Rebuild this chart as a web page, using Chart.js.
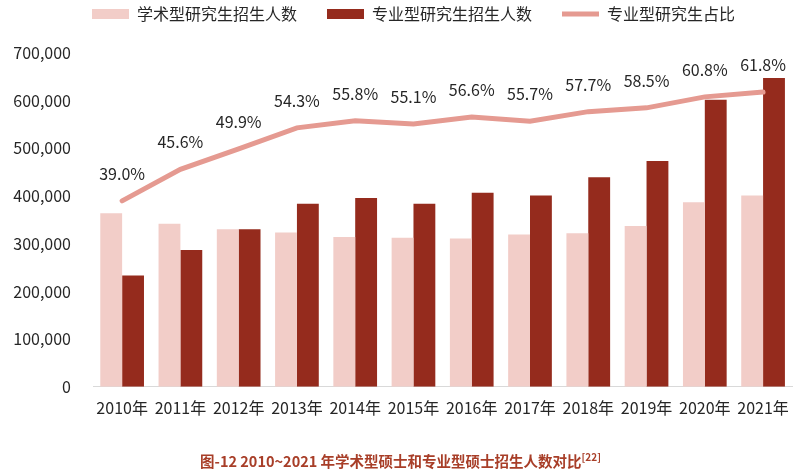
<!DOCTYPE html>
<html>
<head>
<meta charset="utf-8">
<script src="https://cdn.jsdelivr.net/npm/chart.js@4.4.1/dist/chart.umd.min.js"></script>
<style>
  html, body { margin: 0; padding: 0; background: #fff; }
  #wrap { position: relative; width: 801px; height: 475px; }
  #caption {
    position: absolute; left: 0; top: 449px; width: 801px; text-align: center;
    font: bold 14.5px "Noto Sans CJK SC", sans-serif; color: #a83e28;
  }
  #caption sup { font-size: 10px; }
</style>
</head>
<body>
<div id="wrap">
  <canvas id="chart" width="801" height="475"></canvas>
  <div id="caption">图-12 2010~2021 年学术型硕士和专业型硕士招生人数对比<sup>[22]</sup></div>
</div>
<script>
// Categories and series
const years = ['2010年','2011年','2012年','2013年','2014年','2015年','2016年','2017年','2018年','2019年','2020年','2021年'];
const academic = [364000, 342000, 330500, 323500, 314000, 312500, 311000, 319500, 322000, 337000, 387000, 401000];
const professional = [233500, 287000, 330500, 384000, 396000, 384000, 407000, 401000, 439500, 473500, 602000, 647500];
const shareRatio = [39.0, 45.6, 49.9, 54.3, 55.8, 55.1, 56.6, 55.7, 57.7, 58.5, 60.8, 61.8];

const FONT = '"Noto Sans CJK SC", sans-serif';
const pink = '#f2cdc8';
const darkRed = '#952b1d';
const lineColor = '#e59a91';

// value labels above the ratio line
const lineLabels = {
  id: 'lineLabels',
  afterDatasetsDraw(chart) {
    const meta = chart.getDatasetMeta(2);
    const ctx = chart.ctx;
    ctx.save();
    ctx.font = '16px ' + FONT;
    ctx.fillStyle = '#262626';
    ctx.textAlign = 'center';
    ctx.textBaseline = 'middle';
    meta.data.forEach((pt, i) => {
      ctx.fillText(shareRatio[i].toFixed(1) + '%', pt.x, pt.y - 27);
    });
    ctx.restore();
  }
};

// fix legend height so the plot starts where the reference does,
// and drop the trailing item gap so the row is centred like the original
const legendHeight = {
  id: 'legendHeight',
  beforeInit(chart) {
    const fit = chart.legend.fit;
    chart.legend.fit = function () {
      fit.bind(chart.legend)();
      this.height = 77;
      if (this.lineWidths && this.lineWidths.length) this.lineWidths[0] -= 30;
    };
  }
};

new Chart(document.getElementById('chart'), {
  type: 'bar',
  data: {
    labels: years,
    datasets: [
      {
        label: '学术型研究生招生人数',
        data: academic,
        backgroundColor: pink,
        yAxisID: 'y'
      },
      {
        label: '专业型研究生招生人数',
        data: professional,
        backgroundColor: darkRed,
        yAxisID: 'y'
      },
      {
        type: 'line',
        label: '专业型研究生占比',
        data: shareRatio,
        borderColor: lineColor,
        backgroundColor: lineColor,
        borderWidth: 5,
        borderCapStyle: 'round',
        pointRadius: 0,
        tension: 0,
        yAxisID: 'y2',
        order: -1
      }
    ]
  },
  options: {
    responsive: false,
    animation: false,
    categoryPercentage: 0.75,
    barPercentage: 1.0,
    layout: { padding: { top: -24, left: 0, right: 4, bottom: 45 } },
    plugins: {
      tooltip: { enabled: false },
      legend: {
        position: 'top',
        labels: {
          font: { family: FONT, size: 16 },
          color: '#262626',
          padding: 30,
          usePointStyle: true,
          pointStyleWidth: 37,
          boxHeight: 10,
          sort: (a, b) => a.datasetIndex - b.datasetIndex,
          generateLabels(chart) {
            const items = Chart.defaults.plugins.legend.labels.generateLabels(chart);
            items.forEach(it => {
              if (it.datasetIndex === 2) {
                it.pointStyle = 'line';
                it.lineWidth = 5;
                it.strokeStyle = lineColor;
              } else {
                it.pointStyle = 'rect';
                it.lineWidth = 0;
              }
            });
            return items;
          }
        }
      }
    },
    scales: {
      x: {
        grid: { display: false, drawTicks: false },
        border: { display: true, color: '#d9d9d9', width: 1 },
        ticks: {
          font: { family: FONT, size: 16 },
          color: '#262626',
          padding: 12,
          autoSkip: false,
          maxRotation: 0
        }
      },
      y: {
        min: 0,
        max: 700000,
        grid: { display: false, drawTicks: false },
        border: { display: false },
        afterFit(scale) { scale.width = 93; },
        ticks: {
          stepSize: 100000,
          padding: 22,
          font: { family: FONT, size: 16 },
          color: '#262626',
          callback: v => v.toLocaleString('en-US')
        }
      },
      y2: {
        display: false,
        min: 0,
        max: 70
      }
    }
  },
  plugins: [lineLabels, legendHeight]
});
</script>
</body>
</html>
